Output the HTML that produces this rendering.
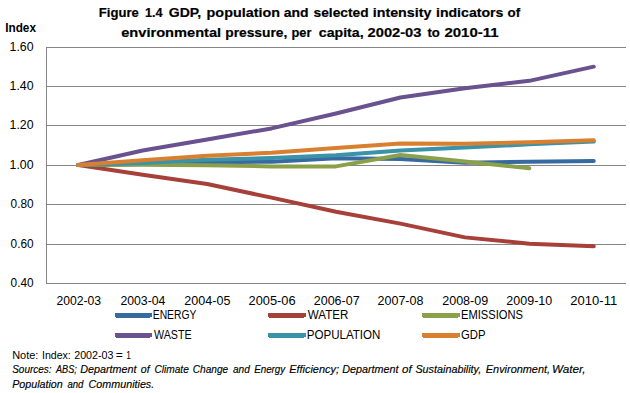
<!DOCTYPE html><html><head><meta charset="utf-8"><style>html,body{margin:0;padding:0;background:#fff;width:630px;height:393px;overflow:hidden}svg{display:block}text{font-family:"Liberation Sans",sans-serif;fill:#000}</style></head><body>
<svg width="630" height="393" viewBox="0 0 630 393">
<rect width="630" height="393" fill="#fff"/>
<text x="98.80" y="16.80" font-size="13.7" font-weight="bold" font-style="normal" textLength="40.00" lengthAdjust="spacingAndGlyphs" stroke="#000" stroke-width="0.2">Figure</text>
<text x="145.00" y="16.80" font-size="13.7" font-weight="bold" font-style="normal" textLength="17.63" lengthAdjust="spacingAndGlyphs" stroke="#000" stroke-width="0.2">1.4</text>
<text x="168.80" y="16.80" font-size="13.7" font-weight="bold" font-style="normal" textLength="32.40" lengthAdjust="spacingAndGlyphs" stroke="#000" stroke-width="0.2">GDP,</text>
<text x="206.60" y="16.80" font-size="13.7" font-weight="bold" font-style="normal" textLength="73.40" lengthAdjust="spacingAndGlyphs" stroke="#000" stroke-width="0.2">population</text>
<text x="283.80" y="16.80" font-size="13.7" font-weight="bold" font-style="normal" textLength="24.84" lengthAdjust="spacingAndGlyphs" stroke="#000" stroke-width="0.2">and</text>
<text x="313.60" y="16.80" font-size="13.7" font-weight="bold" font-style="normal" textLength="55.00" lengthAdjust="spacingAndGlyphs" stroke="#000" stroke-width="0.2">selected</text>
<text x="372.78" y="16.80" font-size="13.7" font-weight="bold" font-style="normal" textLength="58.61" lengthAdjust="spacingAndGlyphs" stroke="#000" stroke-width="0.2">intensity</text>
<text x="435.98" y="16.80" font-size="13.7" font-weight="bold" font-style="normal" textLength="67.42" lengthAdjust="spacingAndGlyphs" stroke="#000" stroke-width="0.2">indicators</text>
<text x="507.61" y="16.80" font-size="13.7" font-weight="bold" font-style="normal" textLength="12.64" lengthAdjust="spacingAndGlyphs" stroke="#000" stroke-width="0.2">of</text>
<text x="121.20" y="36.70" font-size="13.7" font-weight="bold" font-style="normal" textLength="100.00" lengthAdjust="spacingAndGlyphs" stroke="#000" stroke-width="0.2">environmental</text>
<text x="225.20" y="36.70" font-size="13.7" font-weight="bold" font-style="normal" textLength="62.21" lengthAdjust="spacingAndGlyphs" stroke="#000" stroke-width="0.2">pressure,</text>
<text x="291.40" y="36.70" font-size="13.7" font-weight="bold" font-style="normal" textLength="20.00" lengthAdjust="spacingAndGlyphs" stroke="#000" stroke-width="0.2">per</text>
<text x="318.80" y="36.70" font-size="13.7" font-weight="bold" font-style="normal" textLength="44.80" lengthAdjust="spacingAndGlyphs" stroke="#000" stroke-width="0.2">capita,</text>
<text x="367.60" y="36.70" font-size="13.7" font-weight="bold" font-style="normal" textLength="53.80" lengthAdjust="spacingAndGlyphs" stroke="#000" stroke-width="0.2">2002-03</text>
<text x="427.38" y="36.70" font-size="13.7" font-weight="bold" font-style="normal" textLength="12.41" lengthAdjust="spacingAndGlyphs" stroke="#000" stroke-width="0.2">to</text>
<text x="444.40" y="36.70" font-size="13.7" font-weight="bold" font-style="normal" textLength="54.21" lengthAdjust="spacingAndGlyphs" stroke="#000" stroke-width="0.2">2010-11</text>
<text x="5.20" y="31.90" font-size="12.5" font-weight="bold" font-style="normal" textLength="30.80" lengthAdjust="spacingAndGlyphs">Index</text>
<text x="9.58" y="50.60" font-size="12.2" font-weight="normal" font-style="normal" textLength="24.01" lengthAdjust="spacingAndGlyphs">1.60</text>
<text x="9.58" y="89.60" font-size="12.2" font-weight="normal" font-style="normal" textLength="24.01" lengthAdjust="spacingAndGlyphs">1.40</text>
<text x="9.58" y="128.60" font-size="12.2" font-weight="normal" font-style="normal" textLength="24.01" lengthAdjust="spacingAndGlyphs">1.20</text>
<text x="9.58" y="168.60" font-size="12.2" font-weight="normal" font-style="normal" textLength="24.01" lengthAdjust="spacingAndGlyphs">1.00</text>
<text x="10.59" y="207.60" font-size="12.2" font-weight="normal" font-style="normal" textLength="23.01" lengthAdjust="spacingAndGlyphs">0.80</text>
<text x="10.59" y="247.60" font-size="12.2" font-weight="normal" font-style="normal" textLength="23.01" lengthAdjust="spacingAndGlyphs">0.60</text>
<text x="10.59" y="286.60" font-size="12.2" font-weight="normal" font-style="normal" textLength="23.01" lengthAdjust="spacingAndGlyphs">0.40</text>
<text x="56.40" y="305.00" font-size="12.2" font-weight="normal" font-style="normal" textLength="44.60" lengthAdjust="spacingAndGlyphs">2002-03</text>
<text x="120.40" y="305.00" font-size="12.2" font-weight="normal" font-style="normal" textLength="45.00" lengthAdjust="spacingAndGlyphs">2003-04</text>
<text x="184.39" y="305.00" font-size="12.2" font-weight="normal" font-style="normal" textLength="46.02" lengthAdjust="spacingAndGlyphs">2004-05</text>
<text x="248.58" y="305.00" font-size="12.2" font-weight="normal" font-style="normal" textLength="47.02" lengthAdjust="spacingAndGlyphs">2005-06</text>
<text x="313.80" y="305.00" font-size="12.2" font-weight="normal" font-style="normal" textLength="45.80" lengthAdjust="spacingAndGlyphs">2006-07</text>
<text x="377.59" y="305.00" font-size="12.2" font-weight="normal" font-style="normal" textLength="45.82" lengthAdjust="spacingAndGlyphs">2007-08</text>
<text x="442.19" y="305.00" font-size="12.2" font-weight="normal" font-style="normal" textLength="46.02" lengthAdjust="spacingAndGlyphs">2008-09</text>
<text x="506.39" y="305.00" font-size="12.2" font-weight="normal" font-style="normal" textLength="45.80" lengthAdjust="spacingAndGlyphs">2009-10</text>
<text x="570.37" y="305.00" font-size="12.2" font-weight="normal" font-style="normal" textLength="46.84" lengthAdjust="spacingAndGlyphs">2010-11</text>
<text x="152.78" y="318.60" font-size="12.0" font-weight="normal" font-style="normal" textLength="43.62" lengthAdjust="spacingAndGlyphs">ENERGY</text>
<text x="307.80" y="318.60" font-size="12.0" font-weight="normal" font-style="normal" textLength="40.62" lengthAdjust="spacingAndGlyphs">WATER</text>
<text x="460.99" y="318.60" font-size="12.0" font-weight="normal" font-style="normal" textLength="62.02" lengthAdjust="spacingAndGlyphs">EMISSIONS</text>
<text x="154.00" y="338.70" font-size="12.0" font-weight="normal" font-style="normal" textLength="37.60" lengthAdjust="spacingAndGlyphs">WASTE</text>
<text x="306.77" y="338.70" font-size="12.0" font-weight="normal" font-style="normal" textLength="73.65" lengthAdjust="spacingAndGlyphs">POPULATION</text>
<text x="460.97" y="338.70" font-size="12.0" font-weight="normal" font-style="normal" textLength="24.47" lengthAdjust="spacingAndGlyphs">GDP</text>
<text x="12.16" y="358.70" font-size="10.6" font-weight="normal" font-style="normal" textLength="26.25" lengthAdjust="spacingAndGlyphs">Note:</text>
<text x="41.98" y="358.70" font-size="10.6" font-weight="normal" font-style="normal" textLength="28.83" lengthAdjust="spacingAndGlyphs">Index:</text>
<text x="74.19" y="358.70" font-size="10.6" font-weight="normal" font-style="normal" textLength="39.21" lengthAdjust="spacingAndGlyphs">2002-03</text>
<text x="115.75" y="358.70" font-size="10.6" font-weight="normal" font-style="normal" textLength="7.04" lengthAdjust="spacingAndGlyphs">=</text>
<text x="126.21" y="358.70" font-size="10.6" font-weight="normal" font-style="normal" textLength="4.62" lengthAdjust="spacingAndGlyphs">1</text>
<text x="12.20" y="372.70" font-size="10.6" font-weight="normal" font-style="italic" textLength="39.40" lengthAdjust="spacingAndGlyphs" stroke="#000" stroke-width="0.15">Sources:</text>
<text x="55.97" y="372.70" font-size="10.6" font-weight="normal" font-style="italic" textLength="20.82" lengthAdjust="spacingAndGlyphs" stroke="#000" stroke-width="0.15">ABS;</text>
<text x="80.21" y="372.70" font-size="10.6" font-weight="normal" font-style="italic" textLength="56.21" lengthAdjust="spacingAndGlyphs" stroke="#000" stroke-width="0.15">Department</text>
<text x="140.81" y="372.70" font-size="10.6" font-weight="normal" font-style="italic" textLength="8.84" lengthAdjust="spacingAndGlyphs" stroke="#000" stroke-width="0.15">of</text>
<text x="154.40" y="372.70" font-size="10.6" font-weight="normal" font-style="italic" textLength="34.40" lengthAdjust="spacingAndGlyphs" stroke="#000" stroke-width="0.15">Climate</text>
<text x="192.80" y="372.70" font-size="10.6" font-weight="normal" font-style="italic" textLength="35.40" lengthAdjust="spacingAndGlyphs" stroke="#000" stroke-width="0.15">Change</text>
<text x="232.97" y="372.70" font-size="10.6" font-weight="normal" font-style="italic" textLength="16.86" lengthAdjust="spacingAndGlyphs" stroke="#000" stroke-width="0.15">and</text>
<text x="254.17" y="372.70" font-size="10.6" font-weight="normal" font-style="italic" textLength="31.07" lengthAdjust="spacingAndGlyphs" stroke="#000" stroke-width="0.15">Energy</text>
<text x="289.20" y="372.70" font-size="10.6" font-weight="normal" font-style="italic" textLength="49.80" lengthAdjust="spacingAndGlyphs" stroke="#000" stroke-width="0.15">Efficiency;</text>
<text x="342.20" y="372.70" font-size="10.6" font-weight="normal" font-style="italic" textLength="56.41" lengthAdjust="spacingAndGlyphs" stroke="#000" stroke-width="0.15">Department</text>
<text x="402.03" y="372.70" font-size="10.6" font-weight="normal" font-style="italic" textLength="9.64" lengthAdjust="spacingAndGlyphs" stroke="#000" stroke-width="0.15">of</text>
<text x="415.40" y="372.70" font-size="10.6" font-weight="normal" font-style="italic" textLength="65.80" lengthAdjust="spacingAndGlyphs" stroke="#000" stroke-width="0.15">Sustainability,</text>
<text x="485.80" y="372.70" font-size="10.6" font-weight="normal" font-style="italic" textLength="64.22" lengthAdjust="spacingAndGlyphs" stroke="#000" stroke-width="0.15">Environment,</text>
<text x="551.98" y="372.70" font-size="10.6" font-weight="normal" font-style="italic" textLength="33.65" lengthAdjust="spacingAndGlyphs" stroke="#000" stroke-width="0.15">Water,</text>
<text x="12.20" y="388.00" font-size="10.6" font-weight="normal" font-style="italic" textLength="50.60" lengthAdjust="spacingAndGlyphs" stroke="#000" stroke-width="0.15">Population</text>
<text x="67.39" y="388.00" font-size="10.6" font-weight="normal" font-style="italic" textLength="16.06" lengthAdjust="spacingAndGlyphs" stroke="#000" stroke-width="0.15">and</text>
<text x="88.60" y="388.00" font-size="10.6" font-weight="normal" font-style="italic" textLength="65.61" lengthAdjust="spacingAndGlyphs" stroke="#000" stroke-width="0.15">Communities.</text>
<line x1="46" y1="47.5" x2="626" y2="47.5" stroke="#868686" stroke-width="1"/>
<line x1="46" y1="86.5" x2="626" y2="86.5" stroke="#868686" stroke-width="1"/>
<line x1="46" y1="125.5" x2="626" y2="125.5" stroke="#868686" stroke-width="1"/>
<line x1="46" y1="165.5" x2="626" y2="165.5" stroke="#868686" stroke-width="1"/>
<line x1="46" y1="204.5" x2="626" y2="204.5" stroke="#868686" stroke-width="1"/>
<line x1="46" y1="244.5" x2="626" y2="244.5" stroke="#868686" stroke-width="1"/>
<line x1="46" y1="283.5" x2="626" y2="283.5" stroke="#868686" stroke-width="1"/>
<line x1="46.5" y1="47" x2="46.5" y2="283.5" stroke="#868686" stroke-width="1"/>
<polyline points="78.22,165.00 142.67,164.02 207.11,162.44 271.56,161.66 336.00,158.31 400.44,158.90 464.89,162.64 529.33,161.85 593.78,161.07" fill="none" stroke="#386AA2" stroke-width="4.0" stroke-linejoin="round" stroke-linecap="round"/>
<polyline points="78.22,165.00 142.67,174.83 207.11,184.08 271.56,197.65 336.00,211.81 400.44,223.61 464.89,237.37 529.33,243.67 593.78,246.22" fill="none" stroke="#A8403A" stroke-width="4.0" stroke-linejoin="round" stroke-linecap="round"/>
<polyline points="78.22,165.00 142.67,164.80 207.11,165.20 271.56,166.38 336.00,166.38 400.44,154.97 464.89,161.46 529.33,168.34" fill="none" stroke="#8AA049" stroke-width="4.0" stroke-linejoin="round" stroke-linecap="round"/>
<polyline points="78.22,165.00 142.67,150.45 207.11,139.43 271.56,128.42 336.00,113.47 400.44,97.54 464.89,88.30 529.33,80.83 593.78,66.67" fill="none" stroke="#6A518F" stroke-width="4.0" stroke-linejoin="round" stroke-linecap="round"/>
<polyline points="78.22,165.00 142.67,163.03 207.11,159.69 271.56,158.12 336.00,155.17 400.44,150.45 464.89,147.50 529.33,144.35 593.78,141.60" fill="none" stroke="#3A93A8" stroke-width="4.0" stroke-linejoin="round" stroke-linecap="round"/>
<polyline points="78.22,165.00 142.67,160.28 207.11,155.76 271.56,152.81 336.00,147.89 400.44,143.56 464.89,143.76 529.33,142.19 593.78,140.22" fill="none" stroke="#D8802F" stroke-width="4.0" stroke-linejoin="round" stroke-linecap="round"/>
<path d="M115 313H152V317H150V318H116V317H115Z" fill="#386AA2"/>
<path d="M268 313H306V317H304V318H269V317H268Z" fill="#A8403A"/>
<path d="M422 313H460V317H458V318H423V317H422Z" fill="#8AA049"/>
<path d="M115 333H152V337H150V338H116V337H115Z" fill="#6A518F"/>
<path d="M268 333H306V337H304V338H269V337H268Z" fill="#3A93A8"/>
<path d="M422 333H460V337H458V338H423V337H422Z" fill="#D8802F"/>
</svg></body></html>
